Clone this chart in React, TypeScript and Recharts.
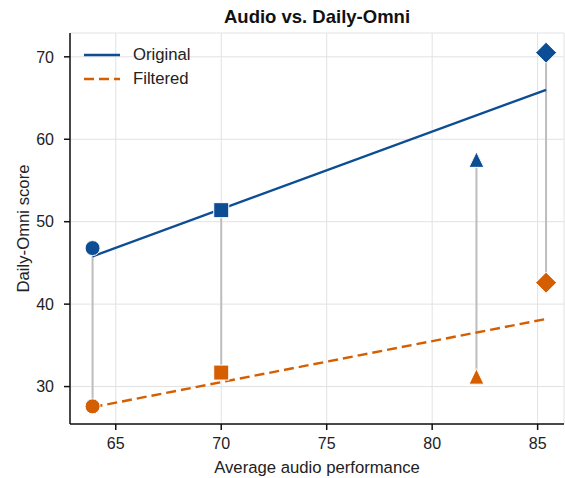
import {
  ScatterChart,
  Scatter,
  XAxis,
  YAxis,
  CartesianGrid,
} from 'recharts';

// values
const markers = ['circle', 'square', 'triangle', 'diamond'];
const audioScore = [63.9, 70.0, 82.1, 85.4];
const originalScore = [46.8, 51.4, 57.5, 70.5];
const filteredScore = [27.6, 31.7, 31.2, 42.6];

// fitted trend lines, ends
const trendX = [63.9, 85.4];
const originalTrend = [45.8, 66.0];
const filteredTrend = [27.5, 38.2];

const xTicks = [65, 70, 75, 80, 85];
const yTicks = [30, 40, 50, 60, 70];

const BLUE = '#0d4d94';
const ORANGE = '#d55e00';
const FONT = '"Liberation Sans", Arial, sans-serif';

const originalPts = audioScore.map((x, i) => ({ x, y: originalScore[i], marker: markers[i] }));
const filteredPts = audioScore.map((x, i) => ({ x, y: filteredScore[i], marker: markers[i] }));
const originalLine = trendX.map((x, i) => ({ x, y: originalTrend[i] }));
const filteredLine = trendX.map((x, i) => ({ x, y: filteredTrend[i] }));
const connectors = audioScore.map((x, i) => [
  { x, y: originalScore[i] },
  { x, y: filteredScore[i] },
]);

function Marker(props: any) {
  const { cx, cy, payload, fill } = props;
  if (cx == null || cy == null) return <g />;
  const st = { fill, stroke: '#fff', strokeWidth: 1 };
  switch (payload.marker) {
    case 'circle':
      return <circle cx={cx} cy={cy} r={7.5} {...st} />;
    case 'square':
      return <rect x={cx - 7.5} y={cy - 7.5} width={15} height={15} {...st} />;
    case 'triangle':
      return <path d={`M${cx},${cy - 8}L${cx + 7.5},${cy + 7.5}L${cx - 7.5},${cy + 7.5}Z`} {...st} />;
    default:
      return <path d={`M${cx},${cy - 10.5}L${cx + 10.5},${cy}L${cx},${cy + 10.5}L${cx - 10.5},${cy}Z`} {...st} />;
  }
}

const noDot = () => <g />;

export default function App() {
  const tick = { fontSize: 16, fill: '#222', fontFamily: FONT };
  return (
    <div style={{ position: 'absolute', left: 0, top: 0, width: 565, height: 478, background: '#fff', fontFamily: FONT }}>
      <div style={{ position: 'absolute', left: 70, width: 494, top: 6, textAlign: 'center', fontWeight: 'bold', fontSize: 18.5, color: '#111' }}>
        Audio vs. Daily-Omni
      </div>
      <ScatterChart width={565} height={478} margin={{ top: 33, right: 1, left: 0, bottom: 0 }}>
        <CartesianGrid stroke="#e2e2e2" strokeWidth={1} />
        <XAxis
          type="number"
          dataKey="x"
          domain={[62.83, 86.25]}
          ticks={xTicks}
          allowDataOverflow
          height={54}
          tickSize={6}
          tickMargin={8}
          tick={tick}
          stroke="#111"
          strokeWidth={1.5}
          label={{
            content: ({ viewBox }: any) => (
              <text
                x={viewBox.x + viewBox.width / 2}
                y={viewBox.y + 43}
                textAnchor="middle"
                dominantBaseline="central"
                fontSize={16.7}
                fontFamily={FONT}
                fill="#222"
              >
                Average audio performance
              </text>
            ),
          }}
        />
        <YAxis
          type="number"
          dataKey="y"
          domain={[25.46, 72.89]}
          ticks={yTicks}
          allowDataOverflow
          width={70}
          tickSize={6}
          tickMargin={10}
          tick={tick}
          stroke="#111"
          strokeWidth={1.5}
          label={{
            content: ({ viewBox }: any) => {
              const x = viewBox.x + 23;
              const y = viewBox.y + viewBox.height / 2;
              return (
                <text
                  x={x}
                  y={y}
                  transform={`rotate(-90 ${x} ${y})`}
                  textAnchor="middle"
                  dominantBaseline="central"
                  fontSize={16.7}
                  fontFamily={FONT}
                  fill="#222"
                >
                  Daily-Omni score
                </text>
              );
            },
          }}
        />
        {connectors.map((seg, i) => (
          <Scatter
            key={`c${i}`}
            data={seg}
            line={{ stroke: '#bdbdbd', strokeWidth: 2 }}
            shape={noDot}
            isAnimationActive={false}
          />
        ))}
        <Scatter
          data={originalLine}
          line={{ stroke: BLUE, strokeWidth: 2.4 }}
          shape={noDot}
          isAnimationActive={false}
        />
        <Scatter
          data={filteredLine}
          line={{ stroke: ORANGE, strokeWidth: 2.4, strokeDasharray: '10 5' }}
          shape={noDot}
          isAnimationActive={false}
        />
        <Scatter data={originalPts} fill={BLUE} shape={Marker} isAnimationActive={false} />
        <Scatter data={filteredPts} fill={ORANGE} shape={Marker} isAnimationActive={false} />
      </ScatterChart>
      <div style={{ position: 'absolute', left: 82, top: 43, fontSize: 16.7, color: '#222', lineHeight: '24px' }}>
        <div style={{ display: 'flex', alignItems: 'center' }}>
          <svg width={40} height={24}>
            <line x1={2} x2={38} y1={12} y2={12} stroke={BLUE} strokeWidth={2.4} />
          </svg>
          <span style={{ marginLeft: 11 }}>Original</span>
        </div>
        <div style={{ display: 'flex', alignItems: 'center' }}>
          <svg width={40} height={24}>
            <line x1={2} x2={38} y1={12} y2={12} stroke={ORANGE} strokeWidth={2.4} strokeDasharray="10 5" />
          </svg>
          <span style={{ marginLeft: 11 }}>Filtered</span>
        </div>
      </div>
    </div>
  );
}
